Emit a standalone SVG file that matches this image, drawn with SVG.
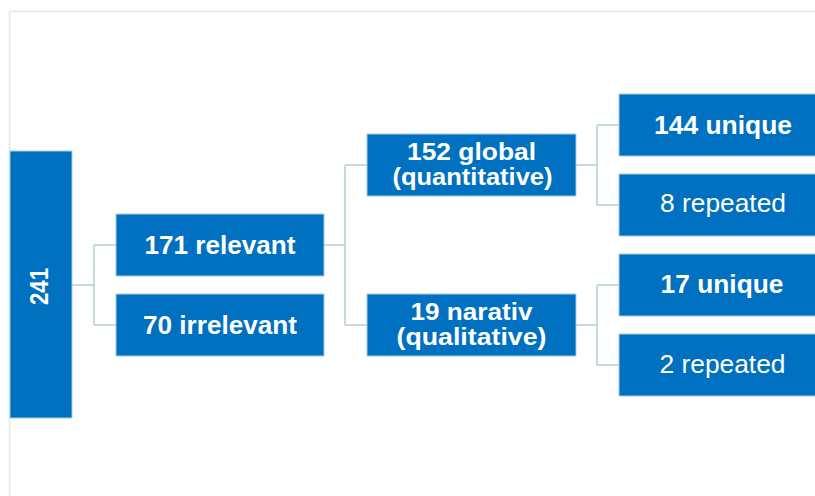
<svg xmlns="http://www.w3.org/2000/svg" width="815" height="496" viewBox="0 0 815 496">
<style>
.box{fill:#0070C0;stroke:#a9cbe8;stroke-width:1}
.t{font-family:"Liberation Sans",Arial,sans-serif;font-size:25.5px;fill:#fff;text-anchor:middle}
.b{font-weight:bold}
.t2{font-family:"Liberation Sans",Arial,sans-serif;font-size:23.5px;font-weight:bold;fill:#fff;text-anchor:middle}
.c{fill:none;stroke:#b5d0d3;stroke-width:1.5}
</style>
<rect x="9.5" y="11.5" width="900" height="600" fill="#fff" stroke="#dcecec" stroke-width="1.5"/>
<g id="connectors">
<path class="c" d="M72 285H94M94 245V325M94 245H116M94 325H116"/>
<path class="c" d="M324 245H345M345 165V325M345 165H367M345 325H367"/>
<path class="c" d="M576 165H597M597 125V205M597 125H619M597 205H619"/>
<path class="c" d="M576 325H597M597 285V365M597 285H619M597 365H619"/>
</g>
<g id="n241">
<rect class="box" x="10" y="151" width="62" height="267"/>
<text class="t b" transform="translate(47.5 286.5) rotate(-90)" font-size="24" textLength="37" lengthAdjust="spacingAndGlyphs">241</text>
</g>
<g id="n171">
<rect class="box" x="116" y="214" width="208" height="62"/>
<text class="t b" x="220" y="253.5" textLength="151" lengthAdjust="spacingAndGlyphs">171 relevant</text>
</g>
<g id="n70">
<rect class="box" x="116" y="294" width="208" height="62"/>
<text class="t b" x="220" y="333.5" textLength="154" lengthAdjust="spacingAndGlyphs">70 irrelevant</text>
</g>
<g id="n152">
<rect class="box" x="367" y="134" width="209" height="62"/>
<text class="t2" x="471.5" y="160" textLength="129" lengthAdjust="spacingAndGlyphs">152 global</text>
<text class="t2" x="472.5" y="184.5" textLength="160" lengthAdjust="spacingAndGlyphs">(quantitative)</text>
</g>
<g id="n19">
<rect class="box" x="367" y="294" width="209" height="62"/>
<text class="t2" x="471.5" y="319.5" textLength="122" lengthAdjust="spacingAndGlyphs">19 narativ</text>
<text class="t2" x="471.5" y="344.5" textLength="150" lengthAdjust="spacingAndGlyphs">(qualitative)</text>
</g>
<g id="n144">
<rect class="box" x="619" y="94" width="209" height="62"/>
<text class="t b" x="723" y="133.5" textLength="138" lengthAdjust="spacingAndGlyphs">144 unique</text>
</g>
<g id="n8">
<rect class="box" x="619" y="174" width="209" height="62"/>
<text class="t" x="723" y="212" textLength="126" lengthAdjust="spacingAndGlyphs">8 repeated</text>
</g>
<g id="n17">
<rect class="box" x="619" y="254" width="209" height="62"/>
<text class="t b" x="722" y="292.5" textLength="123" lengthAdjust="spacingAndGlyphs">17 unique</text>
</g>
<g id="n2">
<rect class="box" x="619" y="334" width="209" height="62"/>
<text class="t" x="722.5" y="372.5" textLength="126" lengthAdjust="spacingAndGlyphs">2 repeated</text>
</g>
</svg>
